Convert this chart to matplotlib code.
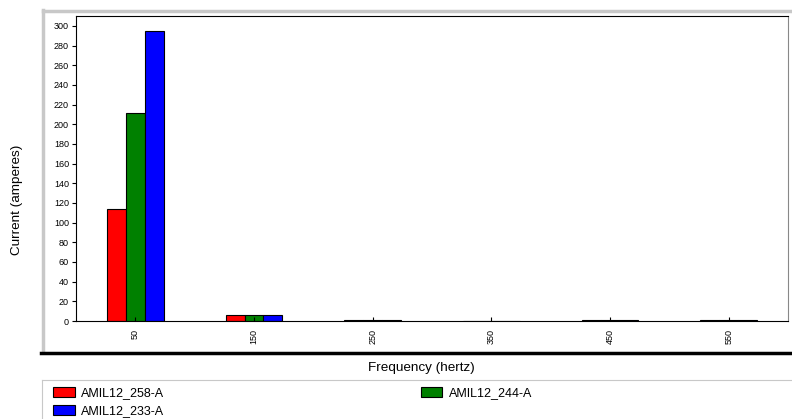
import numpy as np
import matplotlib
matplotlib.use("Agg")
import matplotlib.pyplot as plt
from matplotlib.patches import Patch
from matplotlib.lines import Line2D

# ─────────────────────────────────────────────
# data
# ─────────────────────────────────────────────
freqs = ["50", "150", "250", "350", "450", "550"]
amil_258 = [114, 6, 0.8, 0, 0.8, 0.7]
amil_244 = [211, 6, 0.8, 0, 0.8, 0.7]
amil_233 = [295, 6, 0.8, 0, 0.8, 0.7]
series_names = ["AMIL12_258-A", "AMIL12_244-A", "AMIL12_233-A"]
series_colors = ["#ff0000", "#008000", "#0000ff"]
y_ticks = list(range(0, 301, 20))

plt.rcParams["font.family"] = ["Liberation Sans", "DejaVu Sans"]

W, H = 792, 419
fig = plt.figure(figsize=(W / 100, H / 100), dpi=100)
ax = fig.add_axes([76 / W, 1 - 321 / H, 712 / W, 305 / H])

x = np.arange(len(freqs)) + 0.5
bw = 0.16
for k, (vals, name, col) in enumerate(zip([amil_258, amil_244, amil_233], series_names, series_colors)):
    ax.bar(x + (k - 1) * bw, vals, width=bw, color=col, edgecolor="black",
           linewidth=0.8, label=name)

ax.set_xlim(0, len(freqs))
ax.set_ylim(0, 310)
ax.set_yticks(y_ticks)
ax.set_xticks(x)
ax.set_xticklabels(freqs, rotation=90)
ax.tick_params(axis="y", direction="out", length=3, labelsize=6.5, pad=2)
ax.tick_params(axis="x", direction="in", length=3, labelsize=6.5, pad=6)
for s in ["left", "bottom", "top"]:
    ax.spines[s].set_color("black")
ax.spines["right"].set_color("#888888")

fig.text(17 / W, 1 - 200 / H, "Current (amperes)", rotation=90, fontsize=9.7,
         ha="center", va="center")
fig.text(421 / W, 1 - 368 / H, "Frequency (hertz)", fontsize=9.7,
         ha="center", va="center")

# outer panel frame
gray = "#c8c8c8"
fig.add_artist(Line2D([43 / W, 43 / W], [1 - 10 / H, 1 - 352 / H], color=gray, lw=2.5))
fig.add_artist(Line2D([43 / W, 1], [1 - 11 / H, 1 - 11 / H], color=gray, lw=2.5))
fig.add_artist(Line2D([41 / W, 1], [1 - 353 / H, 1 - 353 / H], color="black", lw=2.5))
fig.add_artist(Line2D([42 / W, 1], [1 - 380 / H, 1 - 380 / H], color=gray, lw=0.8))
fig.add_artist(Line2D([42 / W, 42 / W], [1 - 380 / H, 0], color=gray, lw=0.8))

# legend: column-first order -> 258, 233 | 244
order = [0, 2, 1]
handles = [Patch(facecolor=series_colors[i], edgecolor="black", linewidth=0.8) for i in order]
labels = [series_names[i] for i in order]
fig.legend(handles, labels, ncol=2, loc="upper left",
           bbox_to_anchor=(43 / W, 1 - 377 / H), frameon=False, fontsize=9,
           handlelength=1.75, handleheight=0.85, handletextpad=0.5,
           columnspacing=20.5, labelspacing=0.45, borderpad=0.3)

fig.savefig("out.png", dpi=100)
